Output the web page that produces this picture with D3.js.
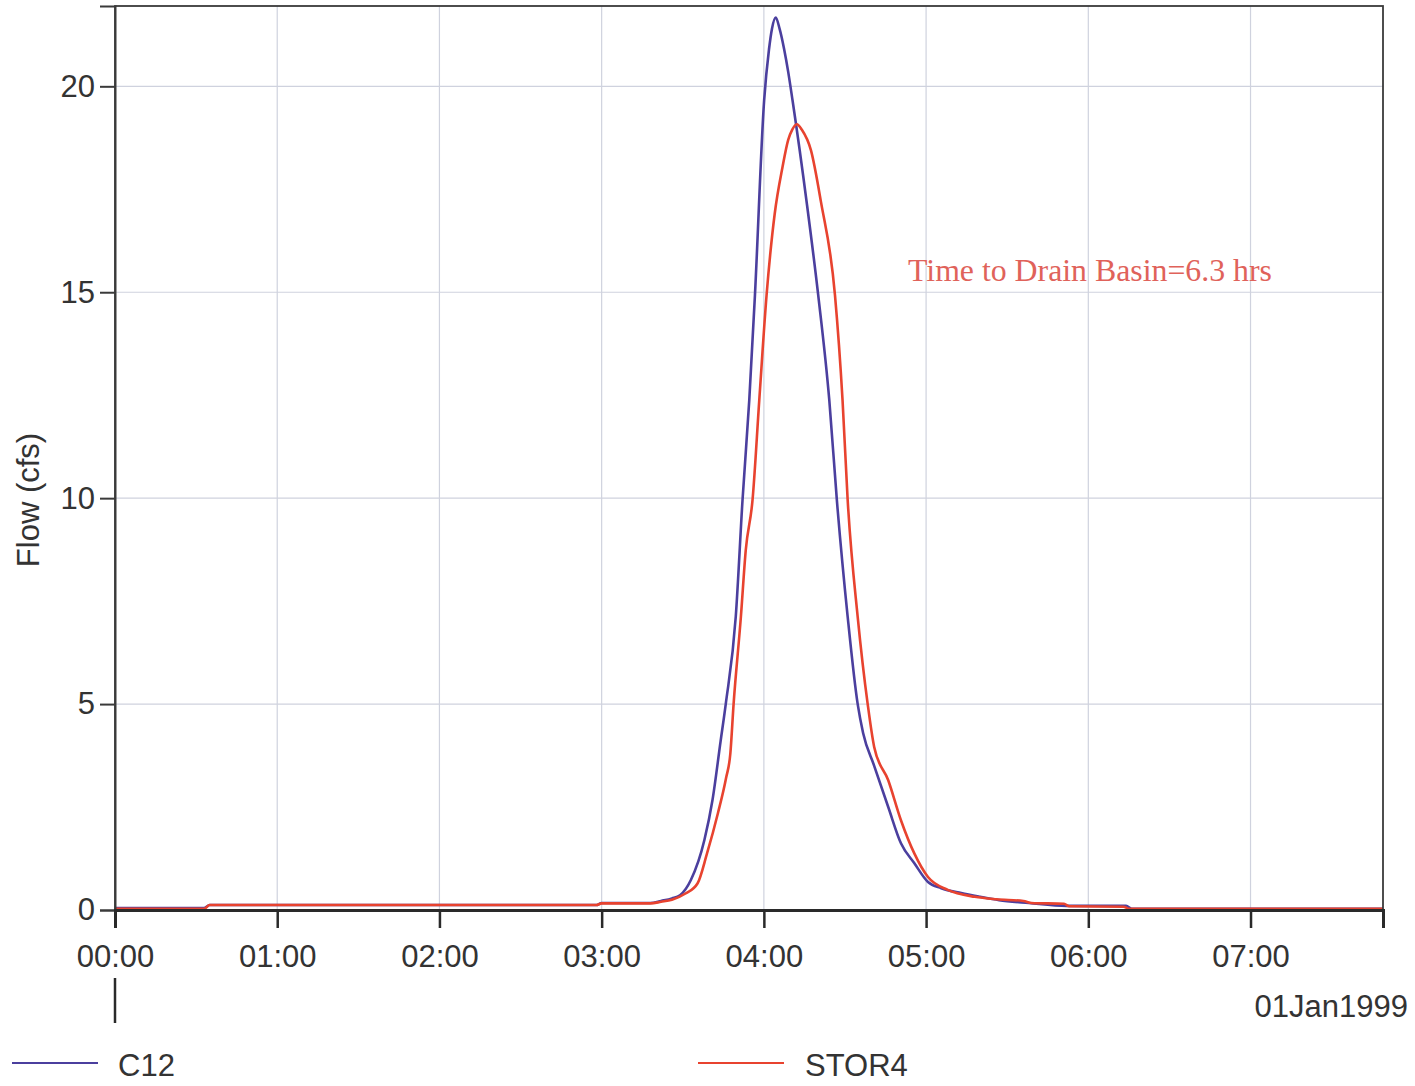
<!DOCTYPE html>
<html>
<head>
<meta charset="utf-8">
<script src="https://cdn.jsdelivr.net/npm/d3@7"></script>
<style>
  body { margin: 0; background: #fff; }
  svg text { font-family: "Liberation Sans", Arial, sans-serif; fill: #333; }
</style>
</head>
<body>
<script>
// Hydrograph values (minutes after 00:00, flow in cfs)
const c12Minutes = [0, 33, 35, 178, 180, 198, 202, 206, 209, 213, 218, 221, 224, 225.9, 229.6, 232.1, 234.6, 236.7, 240.1, 241.9, 243, 244.4, 245.8, 247.5, 249, 250.6, 256, 260.1, 264.2, 267, 271, 274.7, 276.7, 280.8, 286, 290.7, 295.6, 300.7, 305.6, 313, 320, 327, 338, 352, 374, 376, 469];
const c12Flow = [0.05, 0.05, 0.12, 0.12, 0.17, 0.17, 0.22, 0.28, 0.36, 0.73, 1.7, 2.67, 4.1, 5.0, 7.12, 9.95, 12.38, 14.93, 19.66, 20.9, 21.4, 21.67, 21.4, 20.9, 20.35, 19.66, 17.1, 14.93, 12.38, 9.95, 7.12, 5.0, 4.3, 3.5, 2.5, 1.62, 1.14, 0.68, 0.53, 0.41, 0.32, 0.24, 0.17, 0.1, 0.1, 0.03, 0.03];

const stor4Minutes = [0, 33, 35, 178, 180, 198, 202, 206, 211, 215.5, 219, 223, 226, 227.6, 228.8, 231.5, 233.3, 235.8, 238.3, 241, 244, 246.9, 249, 250.5, 252.2, 254, 257.4, 261.1, 266.3, 269.1, 271, 274.7, 278.4, 280.8, 286, 290.7, 295.6, 300.7, 308, 318, 326, 336, 339, 351, 353, 373, 375, 469];
const stor4Flow = [0.03, 0.03, 0.12, 0.12, 0.16, 0.16, 0.2, 0.25, 0.4, 0.65, 1.38, 2.35, 3.2, 3.8, 5.0, 7.12, 8.74, 9.95, 12.38, 14.93, 16.9, 18.04, 18.7, 18.95, 19.08, 18.95, 18.45, 17.2, 14.93, 12.38, 9.95, 7.12, 5.0, 3.96, 3.15, 2.18, 1.38, 0.8, 0.49, 0.32, 0.26, 0.22, 0.17, 0.15, 0.09, 0.08, 0.03, 0.03];

const yTicks = [0, 5, 10, 15, 20];
const seriesNames = ["C12", "STOR4"];
const seriesColors = ["#4b3f9e", "#e8432f"];
const startTime = Date.UTC(1999, 0, 1, 0, 0);
const endMinutes = 469;
const yMax = 21.95;
const dateLabel = "01Jan1999";
const note = "Time to Drain Basin=6.3 hrs";

const w = 1415, h = 1086;
const plotLeft = 115, plotRight = 1383, plotTop = 6, plotBottom = 910;

const toDate = m => new Date(startTime + m * 60000);

const svg = d3.select("body").append("svg")
  .attr("width", w)
  .attr("height", h);

const x = d3.scaleUtc()
  .domain([toDate(0), toDate(endMinutes)])
  .range([plotLeft, plotRight]);

const y = d3.scaleLinear()
  .domain([0, yMax])
  .range([plotBottom, plotTop]);

const hours = x.ticks(d3.utcHour.every(1));

// Grid
svg.append("g")
  .selectAll("line")
  .data(hours)
  .enter()
  .append("line")
  .attr("x1", d => x(d)).attr("x2", d => x(d))
  .attr("y1", plotTop).attr("y2", plotBottom)
  .attr("stroke", "#cfd2de")
  .attr("stroke-width", 1.2);

svg.append("g")
  .selectAll("line")
  .data(yTicks)
  .enter()
  .append("line")
  .attr("x1", plotLeft).attr("x2", plotRight)
  .attr("y1", d => y(d)).attr("y2", d => y(d))
  .attr("stroke", "#cfd2de")
  .attr("stroke-width", 1.2);

// Series
const line = d3.line()
  .x(d => x(toDate(d[0])))
  .y(d => y(d[1]))
  .curve(d3.curveMonotoneX);

const series = [
  d3.zip(c12Minutes, c12Flow),
  d3.zip(stor4Minutes, stor4Flow)
];

series.forEach((pts, i) => {
  svg.append("path")
    .datum(pts)
    .attr("d", line)
    .attr("fill", "none")
    .attr("stroke", seriesColors[i])
    .attr("stroke-width", 2.6);
});

// Frame
svg.append("rect")
  .attr("x", plotLeft).attr("y", plotTop)
  .attr("width", plotRight - plotLeft).attr("height", plotBottom - plotTop)
  .attr("fill", "none")
  .attr("stroke", "#3a3a3a")
  .attr("stroke-width", 1.8);

// Y axis
const yAxis = svg.append("g")
  .attr("transform", `translate(${plotLeft},0)`)
  .call(d3.axisLeft(y).tickValues(yTicks).tickSize(15).tickPadding(5));
yAxis.select(".domain").attr("stroke", "#3a3a3a").attr("stroke-width", 2);
yAxis.selectAll(".tick line").attr("stroke", "#3a3a3a").attr("stroke-width", 2);
yAxis.selectAll("text").attr("font-size", 31).attr("fill", "#333")
  .style("font-family", "Liberation Sans, Arial, sans-serif");

// X axis
const xAxis = svg.append("g")
  .attr("transform", `translate(0,${plotBottom})`)
  .call(d3.axisBottom(x).tickValues(hours).tickFormat(d3.utcFormat("%H:%M")).tickSize(18).tickPadding(17));
xAxis.select(".domain").attr("stroke", "#2a2a2a").attr("stroke-width", 3);
xAxis.selectAll(".tick line").attr("stroke", "#2a2a2a").attr("stroke-width", 2.5);
xAxis.selectAll("text").attr("font-size", 31).attr("fill", "#333")
  .style("font-family", "Liberation Sans, Arial, sans-serif");

// Day divider and date label
svg.append("line")
  .attr("x1", x(toDate(0))).attr("x2", x(toDate(0)))
  .attr("y1", 978).attr("y2", 1023)
  .attr("stroke", "#2a2a2a")
  .attr("stroke-width", 2.5);

svg.append("text")
  .attr("x", 1408).attr("y", 1017)
  .attr("text-anchor", "end")
  .attr("font-size", 31)
  .text(dateLabel);

// Y label
svg.append("text")
  .attr("transform", "translate(39,500) rotate(-90)")
  .attr("text-anchor", "middle")
  .attr("font-size", 31)
  .text("Flow (cfs)");

// Annotation
svg.append("text")
  .attr("x", 908).attr("y", 281)
  .attr("font-size", 31.8)
  .style("font-family", "Liberation Serif, Times New Roman, serif")
  .style("fill", "#e0625a")
  .text(note);

// Legend
const legendPos = [{lx: 12, tx: 118}, {lx: 698, tx: 805}];
seriesNames.forEach((name, i) => {
  svg.append("line")
    .attr("x1", legendPos[i].lx).attr("x2", legendPos[i].lx + 86)
    .attr("y1", 1063).attr("y2", 1063)
    .attr("stroke", seriesColors[i])
    .attr("stroke-width", 2.2);
  svg.append("text")
    .attr("x", legendPos[i].tx).attr("y", 1076)
    .attr("font-size", 31)
    .text(name);
});
</script>
</body>
</html>
